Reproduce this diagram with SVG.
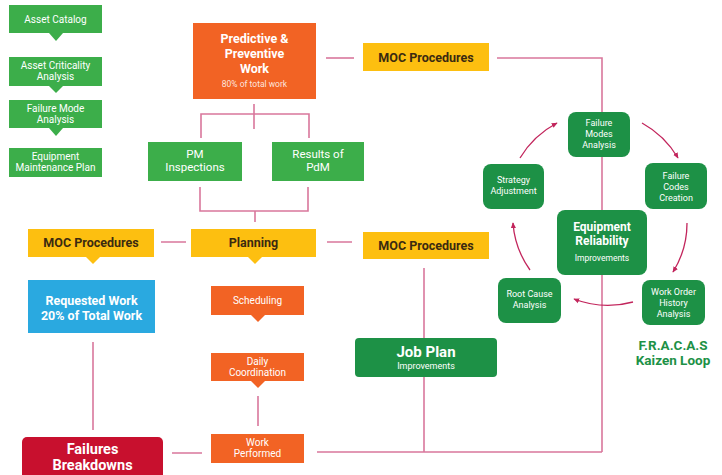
<svg xmlns="http://www.w3.org/2000/svg" width="722" height="475" viewBox="0 0 722 475">
<defs>
<style>
text{font-family:Roboto,"Liberation Sans",sans-serif;text-anchor:middle}
.g{fill:#3cae4a}
.dg{fill:#1d9146}
.o{fill:#f26324}
.y{fill:#fdbf10}
.b{fill:#2aa9e0}
.r{fill:#c8102e}
.w{fill:#ffffff}
.sm{font-size:10px}
.md{font-size:11.5px}
.lp{font-size:9px}
.bd{font-weight:bold}
.moc{font-size:12.5px;font-weight:bold;fill:#3b2a10}
.ln{fill:none;stroke:#d9779c;stroke-width:1.6}
.arc{fill:none;stroke:#c2255c;stroke-width:1.3;marker-end:url(#ah)}
</style>
<marker id="ah" viewBox="0 0 10 10" refX="8" refY="5" markerWidth="5" markerHeight="5" orient="auto">
<path d="M0,1 L9,5 L0,9 z" fill="#c2255c"/>
</marker>
</defs>
<rect width="722" height="475" fill="#ffffff"/>

<g id="connectors">
<path class="ln" d="M326,58 H354"/>
<path class="ln" d="M497,58 H602 V452"/>
<path class="ln" d="M254,104 V129 M201,138 V114 H309 V138"/>
<path class="ln" d="M200,187 V211 H308 V187 M255,211 V222"/>
<path class="ln" d="M161,242 H186 M327,242 H352"/>
<path class="ln" d="M424,268 V452"/>
<path class="ln" d="M93,342 V430"/>
<path class="ln" d="M258,396 V426"/>
<path class="ln" d="M172,453 H202 M317,452 H602"/>
<path class="arc" d="M520,158 A95,95 0 0 1 557,123"/>
<path class="arc" d="M642,123 A95,95 0 0 1 678,158"/>
<path class="arc" d="M687,223 A92,92 0 0 1 673,272"/>
<path class="arc" d="M633,302 A95,95 0 0 1 574,299"/>
<path class="arc" d="M530,270 A92,92 0 0 1 513,223"/>
</g>

<g id="asset-catalog">
<rect class="g" x="9" y="5" width="93" height="28"/>
<path class="g" d="M49,33 L63,33 L56,41 z"/>
<text class="w sm" x="55.5" y="22.5">Asset Catalog</text>
</g>
<g id="asset-criticality">
<rect class="g" x="9" y="57" width="93" height="29"/>
<path class="g" d="M49,86 L63,86 L56,93 z"/>
<text class="w sm" x="55.5" y="69">Asset Criticality</text>
<text class="w sm" x="55.5" y="80">Analysis</text>
</g>
<g id="failure-mode">
<rect class="g" x="9" y="100" width="93" height="28"/>
<path class="g" d="M49,128 L63,128 L56,136 z"/>
<text class="w sm" x="55.5" y="112">Failure Mode</text>
<text class="w sm" x="55.5" y="123">Analysis</text>
</g>
<g id="equipment-plan">
<rect class="g" x="9" y="148" width="93" height="29"/>
<text class="w sm" x="55.5" y="160">Equipment</text>
<text class="w sm" x="55.5" y="171">Maintenance Plan</text>
</g>

<g id="predictive">
<rect class="o" x="193" y="23" width="123" height="76"/>
<text class="w bd" x="254.5" y="43" font-size="12.5">Predictive &amp;</text>
<text class="w bd" x="254.5" y="58" font-size="12.5">Preventive</text>
<text class="w bd" x="254.5" y="73" font-size="12.5">Work</text>
<text class="w" x="254.5" y="87" font-size="8.5" fill-opacity="0.85">80% of total work</text>
</g>
<g id="moc-top">
<rect class="y" x="363" y="43" width="126" height="28"/>
<text class="moc" x="426" y="61.5">MOC Procedures</text>
</g>

<g id="pm-inspections">
<rect class="g" x="148" y="142" width="94" height="39"/>
<text class="w md" x="195" y="158">PM</text>
<text class="w md" x="195" y="171">Inspections</text>
</g>
<g id="results-pdm">
<rect class="g" x="272" y="142" width="92" height="39"/>
<text class="w md" x="318" y="158">Results of</text>
<text class="w md" x="318" y="171">PdM</text>
</g>

<g id="moc-left">
<rect class="y" x="28" y="229" width="126" height="28"/>
<path class="y" d="M86,257 L100,257 L93,264 z"/>
<text class="moc" x="91" y="247">MOC Procedures</text>
</g>
<g id="planning">
<rect class="y" x="191" y="229" width="125" height="28"/>
<path class="y" d="M248,257 L262,257 L255,264 z"/>
<text class="moc" x="253.5" y="247">Planning</text>
</g>
<g id="moc-mid">
<rect class="y" x="363" y="232" width="126" height="27"/>
<text class="moc" x="426" y="250">MOC Procedures</text>
</g>

<g id="requested-work">
<rect class="b" x="28" y="280" width="127" height="53"/>
<text class="w bd" x="91.5" y="305" font-size="12.5">Requested Work</text>
<text class="w bd" x="91.5" y="320" font-size="12.5">20% of Total Work</text>
</g>

<g id="scheduling">
<rect class="o" x="211" y="286" width="93" height="29"/>
<path class="o" d="M251,315 L265,315 L258,322 z"/>
<text class="w sm" x="257.5" y="304">Scheduling</text>
</g>
<g id="daily-coordination">
<rect class="o" x="211" y="353" width="93" height="28"/>
<path class="o" d="M251,381 L265,381 L258,388 z"/>
<text class="w sm" x="257.5" y="365">Daily</text>
<text class="w sm" x="257.5" y="375.5">Coordination</text>
</g>
<g id="work-performed">
<rect class="o" x="211" y="434" width="93" height="29"/>
<text class="w sm" x="257.5" y="446">Work</text>
<text class="w sm" x="257.5" y="457">Performed</text>
</g>

<g id="failures-breakdowns">
<rect class="r" x="22" y="437" width="141" height="45" rx="5"/>
<text class="w bd" x="92.5" y="454" font-size="14.5">Failures</text>
<text class="w bd" x="92.5" y="470" font-size="14.5">Breakdowns</text>
</g>

<g id="job-plan">
<rect class="dg" x="355" y="338" width="142" height="39" rx="4"/>
<text class="w bd" x="426" y="357" font-size="15">Job Plan</text>
<text class="w" x="426" y="369" font-size="9">Improvements</text>
</g>

<g id="failure-modes">
<rect class="dg" x="568" y="112" width="62" height="45" rx="8"/>
<text class="w lp" x="599" y="126">Failure</text>
<text class="w lp" x="599" y="137">Modes</text>
<text class="w lp" x="599" y="148">Analysis</text>
</g>
<g id="strategy-adjustment">
<rect class="dg" x="483" y="164" width="61" height="45" rx="8"/>
<text class="w lp" x="513.5" y="183">Strategy</text>
<text class="w lp" x="513.5" y="194">Adjustment</text>
</g>
<g id="failure-codes">
<rect class="dg" x="645" y="163" width="62" height="46" rx="8"/>
<text class="w lp" x="676" y="179">Failure</text>
<text class="w lp" x="676" y="190">Codes</text>
<text class="w lp" x="676" y="201">Creation</text>
</g>
<g id="equipment-reliability">
<rect class="dg" x="557" y="210" width="90" height="65" rx="8"/>
<text class="w bd" x="602" y="231" font-size="12">Equipment</text>
<text class="w bd" x="602" y="245" font-size="12">Reliability</text>
<text class="w" x="602" y="261" font-size="8.5">Improvements</text>
</g>
<g id="root-cause">
<rect class="dg" x="498" y="278" width="63" height="45" rx="8"/>
<text class="w lp" x="529.5" y="297">Root Cause</text>
<text class="w lp" x="529.5" y="308">Analysis</text>
</g>
<g id="work-order-history">
<rect class="dg" x="642" y="280" width="63" height="45" rx="8"/>
<text class="w lp" x="673.5" y="295">Work Order</text>
<text class="w lp" x="673.5" y="306">History</text>
<text class="w lp" x="673.5" y="317">Analysis</text>
</g>

<g id="fracas-label">
<text class="bd" x="673" y="350" font-size="13.5" fill="#1d9146">F.R.A.C.A.S</text>
<text class="bd" x="673" y="365" font-size="13.5" fill="#1d9146">Kaizen Loop</text>
</g>
</svg>
